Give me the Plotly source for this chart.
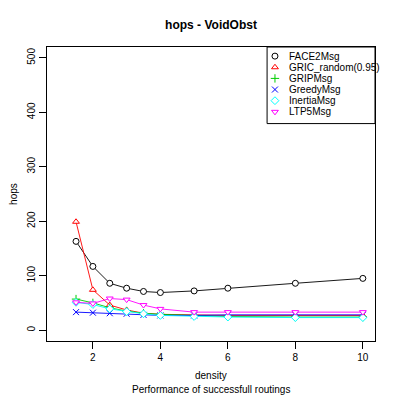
import plotly.graph_objs as go

# densities on the x axis
density = [1.5, 2, 2.5, 3, 3.5, 4, 5, 6, 8, 10]

# mean hops per routing algorithm
face2_msg = [163, 117, 86, 77, 71, 69, 72, 77, 86, 95]
gric_random = [199, 74, 46, 37, 31, 29, 28, 27, 27, 27]
grip_msg = [57, 50, 41, 35, 31, 29, 27, 25, 24, 24]
greedy_msg = [33, 32, 31, 30, 28, 27, 27, 28, 28, 28]
inertia_msg = [51, 47, 39, 34, 30, 27, 25, 24, 23, 23]
ltp5_msg = [51, 49, 58, 56, 46, 39, 33, 33, 33, 33]

series = [
    ("FACE2Msg", face2_msg, "black", "circle"),
    ("GRIC_random(0.95)", gric_random, "#FF0000", "triangle-up"),
    ("GRIPMsg", grip_msg, "#00CD00", "cross-thin"),
    ("GreedyMsg", greedy_msg, "#0000FF", "x-thin"),
    ("InertiaMsg", inertia_msg, "#00FFFF", "diamond"),
    ("LTP5Msg", ltp5_msg, "#FF00FF", "triangle-down"),
]

# the page body has an 8px margin, so the figure is shrunk by that much
W, H = 391, 392
L, R, T, B = 39, 24, 39, 59
PH = H - T - B

fig = go.Figure()


def marker_style(col, sym, size):
    thin = sym.endswith("-thin")
    return dict(symbol=sym, size=size,
                color=col if thin else "white",
                line=dict(color=col, width=1))


for name, vals, col, sym in series:
    fig.add_trace(go.Scatter(
        x=density, y=vals, name=name, mode="lines+markers",
        line=dict(color=col, width=0.9),
        marker=marker_style(col, sym, 6)))

# hand made legend, like R's legend() box in the top right corner
leg_x0, leg_y1 = 0.671, 1.0
row_top, row_step = 0.969, 0.0379
for i, (name, vals, col, sym) in enumerate(series):
    ry = row_top - i * row_step
    fig.add_trace(go.Scatter(
        x=[0.695], y=[ry], xaxis="x2", yaxis="y2", mode="markers",
        marker=marker_style(col, sym, 6), showlegend=False, hoverinfo="skip"))
    fig.add_annotation(text=name, xref="paper", yref="paper", x=0.733, y=ry,
                       xanchor="left", yanchor="middle", showarrow=False,
                       font=dict(size=10))
fig.add_shape(type="rect", xref="paper", yref="paper",
              x0=leg_x0, x1=1.0, y0=row_top - 5 * row_step - 0.04, y1=leg_y1,
              line=dict(color="black", width=1), fillcolor="white", layer="below")

axis_common = dict(ticks="outside", ticklen=7, tickcolor="black",
                   showline=True, linecolor="black", mirror=True,
                   showgrid=False, zeroline=False, tickfont=dict(size=10))

fig.update_layout(
    width=W, height=H,
    margin=dict(l=L, r=R, t=T, b=B),
    paper_bgcolor="white", plot_bgcolor="rgba(0,0,0,0)",
    font=dict(family="Liberation Sans, Arial, sans-serif", size=10, color="black"),
    title=dict(text="<b>hops - VoidObst</b>", x=(L + 164) / W, xanchor="center",
               y=1 - 17 / H, yanchor="middle", font=dict(size=12)),
    showlegend=False,
    xaxis=dict(range=[0.64, 10.36], tickvals=[2, 4, 6, 8, 10], **axis_common),
    yaxis=dict(range=[-20, 520], tickvals=[0, 100, 200, 300, 400, 500],
               tickangle=-90, **axis_common),
    xaxis2=dict(overlaying="x", range=[0, 1], visible=False, fixedrange=True),
    yaxis2=dict(overlaying="y", range=[0, 1], visible=False, fixedrange=True),
)

fig.add_annotation(text="density", xref="paper", yref="paper",
                   x=0.5, y=-34 / PH, yanchor="middle", showarrow=False,
                   font=dict(size=10))
fig.add_annotation(text="Performance of successfull routings", xref="paper", yref="paper",
                   x=0.5, y=-48 / PH, yanchor="middle", showarrow=False,
                   font=dict(size=10))
fig.add_annotation(text="hops", xref="paper", yref="paper", textangle=-90,
                   x=-0.104, y=0.5, showarrow=False, font=dict(size=10),
                   xanchor="center")

fig.write_html("out.html")
